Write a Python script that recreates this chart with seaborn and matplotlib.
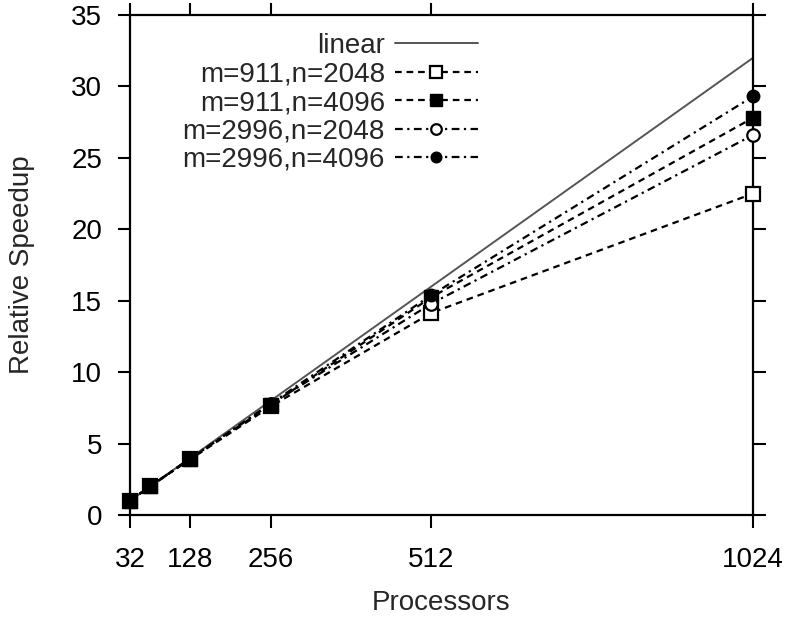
import seaborn as sns
import numpy as np
import pandas as pd
import matplotlib
matplotlib.use("Agg")
import matplotlib.pyplot as plt

# processors and measured relative speedups
procs = [32, 64, 128, 256, 512, 1024]
linear = [1, 2, 4, 8, 16, 32]
m911_n2048 = [1, 2.0, 3.9, 7.6, 14.15, 22.5]
m911_n4096 = [1, 2.0, 3.95, 7.7, 15.25, 27.8]
m2996_n2048 = [1, 2.0, 3.95, 7.75, 14.8, 26.6]
m2996_n4096 = [1, 2.0, 3.95, 7.8, 15.4, 29.3]

x_ticks = [32, 128, 256, 512, 1024]
y_ticks = [0, 5, 10, 15, 20, 25, 30, 35]

sns.set_style("ticks")
plt.rcParams['font.family'] = ['Liberation Sans', 'DejaVu Sans']
fs = 20

fig = plt.figure(figsize=(7.93, 6.18), dpi=100)
ax = fig.add_axes([130/793, 103/618, 623/793, 500/618])

dash = (0, (3, 2.2))
dashdot = (0, (3.5, 2, 1, 2))

sns.lineplot(x=procs, y=linear, ax=ax, color="#555555", lw=1.4,
  label="linear")
sns.lineplot(x=procs, y=m911_n2048, ax=ax, color="black", lw=1.6,
  linestyle=dash, marker="s", ms=9.5, mfc="white", mec="black", mew=1.6,
  label="m=911,n=2048", clip_on=False, zorder=3)
sns.lineplot(x=procs, y=m911_n4096, ax=ax, color="black", lw=1.6,
  linestyle=dash, marker="s", ms=9.5, mfc="black", mec="black", mew=1,
  label="m=911,n=4096", clip_on=False, zorder=3)
sns.lineplot(x=procs, y=m2996_n2048, ax=ax, color="black", lw=1.6,
  linestyle=dashdot, marker="o", ms=9, mfc="white", mec="black", mew=1.6,
  label="m=2996,n=2048", clip_on=False, zorder=3)
sns.lineplot(x=procs, y=m2996_n4096, ax=ax, color="black", lw=1.6,
  linestyle=dashdot, marker="o", ms=9, mfc="black", mec="black", mew=1,
  label="m=2996,n=4096", clip_on=False, zorder=3)

ax.set_xlim(32, 1024)
ax.set_ylim(0, 35)
ax.set_xticks(x_ticks)
ax.set_yticks(y_ticks)
ax.tick_params(axis="both", direction="out", length=9, width=1.5,
  labelsize=fs, top=True, right=True, colors="black")
ax.tick_params(axis="x", pad=14)
ax.tick_params(axis="y", pad=11)
for s in ax.spines.values():
  s.set_linewidth(1.6)
  s.set_color("black")

ax.set_xlabel("Processors", fontsize=fs, labelpad=12)
ax.set_ylabel("Relative Speedup", fontsize=fs, labelpad=26)

leg = ax.legend(loc="upper right", bbox_to_anchor=(478/793, 1 - 33/618),
  bbox_transform=fig.transFigure, frameon=False, markerfirst=False,
  fontsize=fs, handlelength=3.0, handletextpad=0.35, labelspacing=0.09,
  borderpad=0, borderaxespad=0, markerscale=0.85)
for t in leg.get_texts():
  t.set_ha("right")

plt.savefig("out.png", dpi=100)
